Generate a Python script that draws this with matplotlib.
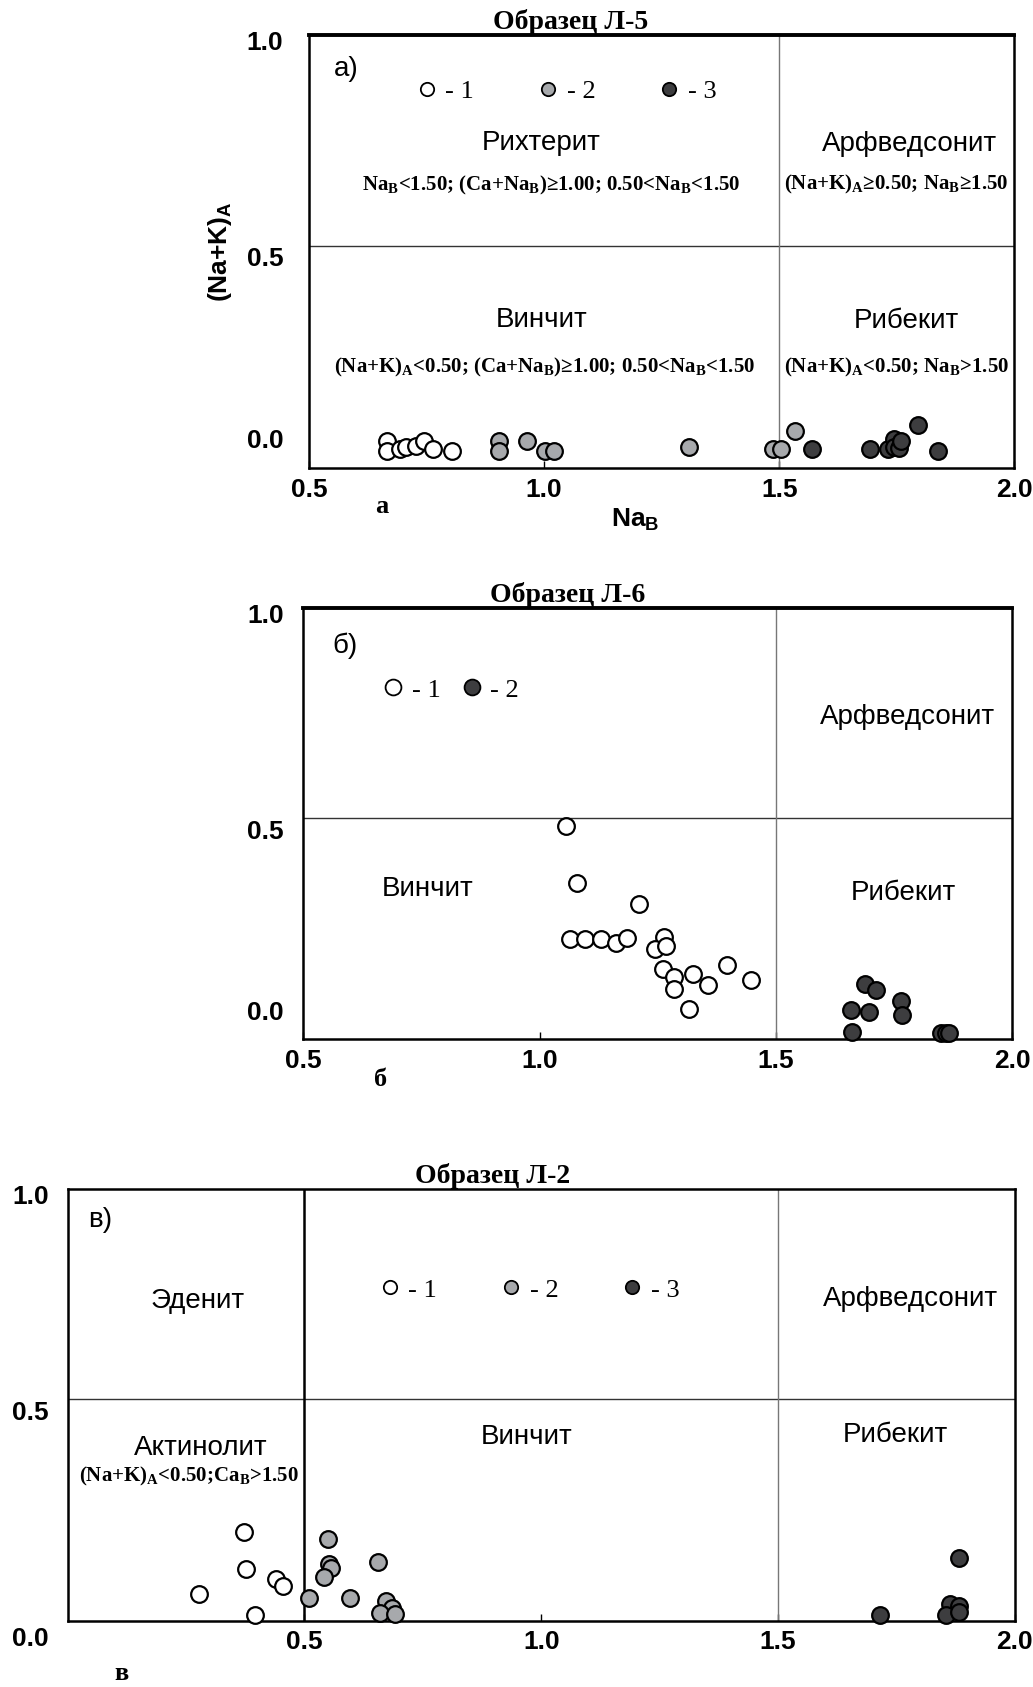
import matplotlib
matplotlib.use('Agg')
import matplotlib.pyplot as plt
from matplotlib.lines import Line2D

# --- данные (Na_B, (Na+K)_A) ---
# Образец Л-5
a_x1 = [0.667, 0.667, 0.694, 0.707, 0.728, 0.745, 0.763, 0.804]
a_y1 = [0.037, 0.013, 0.016, 0.021, 0.025, 0.035, 0.016, 0.013]
a_x2 = [0.905, 0.905, 0.963, 1.002, 1.021, 1.309, 1.486, 1.504, 1.534]
a_y2 = [0.037, 0.013, 0.035, 0.013, 0.013, 0.023, 0.016, 0.017, 0.061]
a_x3 = [1.569, 1.693, 1.732, 1.743, 1.745, 1.754, 1.759, 1.794, 1.837]
a_y3 = [0.016, 0.016, 0.016, 0.041, 0.022, 0.019, 0.035, 0.074, 0.013]

# Образец Л-6
b_x1 = [1.055, 1.079, 1.210, 1.063, 1.096, 1.129, 1.161, 1.185, 1.263, 1.243,
        1.268, 1.260, 1.283, 1.283, 1.324, 1.357, 1.396, 1.447, 1.316]
b_y1 = [0.481, 0.345, 0.295, 0.210, 0.210, 0.210, 0.202, 0.213, 0.217, 0.187,
        0.195, 0.139, 0.121, 0.092, 0.127, 0.102, 0.149, 0.113, 0.044]
b_x2 = [1.689, 1.711, 1.659, 1.697, 1.764, 1.767, 1.661, 1.849, 1.859, 1.866]
b_y2 = [0.105, 0.090, 0.042, 0.038, 0.064, 0.030, -0.010, -0.012, -0.012, -0.012]

# Образец Л-2
c_x1 = [0.373, 0.377, 0.439, 0.455, 0.278, 0.395]
c_y1 = [0.182, 0.094, 0.071, 0.054, 0.036, -0.015]
c_x2 = [0.550, 0.551, 0.556, 0.542, 0.509, 0.597, 0.656, 0.672, 0.685, 0.660, 0.691]
c_y2 = [0.167, 0.106, 0.096, 0.076, 0.025, 0.025, 0.112, 0.019, 0.001, -0.011, -0.013]
c_x3 = [1.883, 1.715, 1.863, 1.882, 1.855, 1.883]
c_y3 = [0.122, -0.015, 0.011, 0.006, -0.015, -0.007]

x_ticks = [0.5, 1.0, 1.5, 2.0]
x_labels = ['0.5', '1.0', '1.5', '2.0']
y_labels = ['0.0', '0.5', '1.0']

# цвета групп
cols = {1: 'white', 2: '#a7a9ac', 3: '#3d3d3f'}

plt.rcParams['font.family'] = ['Liberation Sans', 'DejaVu Sans']
plt.rcParams['mathtext.fontset'] = 'custom'
plt.rcParams['mathtext.rm'] = 'Liberation Serif:bold'
plt.rcParams['mathtext.sf'] = 'Liberation Sans:bold'

SERIF = ['Liberation Serif', 'DejaVu Serif']

fig = plt.figure(figsize=(10.33, 16.87), dpi=100)


def points(ax, xs, ys, grp):
    ax.plot(xs, ys, 'o', ms=12, mfc=cols[grp], mec='black', mew=1.6,
            clip_on=False, zorder=4)


def frame(ax, xlim, ylab_pos, ylab_x, top_lw=1.8):
    ax.set_xlim(*xlim)
    ax.set_ylim(-0.028, 1.0)
    ax.set_xticks(x_ticks)
    ax.set_xticklabels(x_labels)
    ax.tick_params(axis='x', direction='in', length=5, width=1, pad=7,
                   labelsize=19)
    for lab in ax.get_xticklabels():
        lab.set_fontweight('bold')
    ax.set_yticks([])
    # подписи оси Y стоят чуть смещённо, как в оригинале
    for lab, yv in zip(y_labels, ylab_pos):
        ax.text(ylab_x, yv, lab, transform=ax.get_yaxis_transform(),
                ha='right', va='center', fontsize=19, fontweight='bold',
                clip_on=False)
    for s in ax.spines.values():
        s.set_linewidth(1.8)
    ax.spines['top'].set_linewidth(top_lw)


def legend(ax, handles, labels, pos, spacing, scale=0.8):
    ax.legend(handles, labels, loc='center', bbox_to_anchor=pos, ncol=len(labels),
              frameon=False, handlelength=0.8, handletextpad=0.3,
              columnspacing=spacing, markerscale=scale,
              prop={'family': SERIF, 'size': 19})


def h(grp, ms=12):
    return Line2D([], [], ls='', marker='o', ms=ms, mfc=cols[grp], mec='black', mew=1.3)


reg = dict(ha='center', va='center', fontsize=20)
form = dict(ha='center', va='center', fontsize=15, family=SERIF, fontweight='bold')
title = dict(ha='center', va='bottom', fontsize=20, family=SERIF, fontweight='bold')
lett = dict(ha='center', va='center', fontsize=19, family=SERIF, fontweight='bold')

# ================= а) =================
ax = fig.add_axes([0.299, 0.7226, 0.683, 0.2564])
frame(ax, (0.5, 2.0), [0.036, 0.469, 0.982], -0.036, top_lw=2.8)
ax.plot([0.5, 2.0], [0.5, 0.5], color='#333333', lw=1)
ax.plot([1.5, 1.5], [-0.028, 1.0], color='#777777', lw=1)
points(ax, a_x1, a_y1, 1)
points(ax, a_x2, a_y2, 2)
points(ax, a_x3, a_y3, 3)
legend(ax, [h(1), h(2), h(3)], ['- 1', '- 2', '- 3'], (0.365, 0.871), 2.4)
ax.text(1.056, 1.0, 'Образец Л-5', **title)
ax.text(0.58, 0.921, 'а)', **reg)
ax.text(0.994, 0.745, 'Рихтерит', **reg)
ax.text(1.015, 0.643, 'Na$_\\mathrm{B}$<1.50; (Ca+Na$_\\mathrm{B}$)≥1.00; 0.50<Na$_\\mathrm{B}$<1.50', **form)
ax.text(1.777, 0.742, 'Арфведсонит', **reg)
ax.text(1.749, 0.645, '(Na+K)$_\\mathrm{A}$≥0.50; Na$_\\mathrm{B}$≥1.50', **form)
ax.text(0.994, 0.324, 'Винчит', **reg)
ax.text(1.001, 0.212, '(Na+K)$_\\mathrm{A}$<0.50; (Ca+Na$_\\mathrm{B}$)≥1.00; 0.50<Na$_\\mathrm{B}$<1.50', **form)
ax.text(1.770, 0.321, 'Рибекит', **reg)
ax.text(1.749, 0.212, '(Na+K)$_\\mathrm{A}$<0.50; Na$_\\mathrm{B}$>1.50', **form)
ax.text(0.656, -0.12, 'а', **lett)
ax.text(1.193, -0.15, 'Na$_\\mathsf{B}$', ha='center', va='center', fontsize=19,
        fontweight='bold')
ax.set_ylabel('(Na+K)$_\\mathsf{A}$', fontsize=19, fontweight='bold')
ax.yaxis.set_label_coords(-0.106, 0.5)

# ================= б) =================
ax = fig.add_axes([0.2937, 0.3839, 0.6864, 0.2557])
frame(ax, (0.5, 2.0), [0.036, 0.467, 0.982], -0.028, top_lw=2.8)
ax.plot([0.5, 2.0], [0.5, 0.5], color='#333333', lw=1)
ax.plot([1.5, 1.5], [-0.028, 1.0], color='#777777', lw=1)
points(ax, b_x1, b_y1, 1)
points(ax, b_x2, b_y2, 3)
legend(ax, [h(1), h(3)], ['- 1', '- 2'], (0.208, 0.81), 0.8, scale=0.95)
ax.text(1.058, 1.0, 'Образец Л-6', **title)
ax.text(0.587, 0.910, 'б)', **reg)
ax.text(1.777, 0.741, 'Арфведсонит', **reg)
ax.text(0.762, 0.331, 'Винчит', **reg)
ax.text(1.770, 0.321, 'Рибекит', **reg)
ax.text(0.664, -0.123, 'б', **lett)

# ================= в) =================
ax = fig.add_axes([0.0656, 0.0394, 0.9166, 0.2558])
frame(ax, (0.0, 2.0), [-0.072, 0.467, 0.982], -0.02)
ax.plot([0.0, 2.0], [0.5, 0.5], color='#333333', lw=1)
ax.plot([0.5, 0.5], [-0.028, 1.0], color='black', lw=1.8)
ax.plot([1.5, 1.5], [-0.028, 1.0], color='#777777', lw=1)
points(ax, c_x1, c_y1, 1)
points(ax, c_x2, c_y2, 2)
points(ax, c_x3, c_y3, 3)
legend(ax, [h(1), h(2), h(3)], ['- 1', '- 2', '- 3'], (0.4875, 0.766), 2.4)
ax.text(0.898, 1.0, 'Образец Л-2', **title)
ax.text(0.068, 0.926, 'в)', **reg)
ax.text(0.275, 0.733, 'Эденит', **reg)
ax.text(0.280, 0.382, 'Актинолит', **reg)
ax.text(0.257, 0.315, '(Na+K)$_\\mathrm{A}$<0.50;Ca$_\\mathrm{B}$>1.50', **form)
ax.text(1.780, 0.738, 'Арфведсонит', **reg)
ax.text(0.970, 0.410, 'Винчит', **reg)
ax.text(1.748, 0.413, 'Рибекит', **reg)
ax.text(0.114, -0.155, 'в', **lett)

fig.savefig('out.png', dpi=100)
